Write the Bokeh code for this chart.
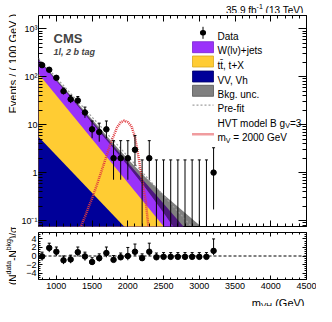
import math
from bokeh.plotting import figure
from bokeh.layouts import column, row
from bokeh.models import (LinearAxis, LogAxis, SingleIntervalTicker, FixedTicker,
                          CustomJSTickFormatter, Label, BoxAnnotation, Arrow, Span)
from bokeh.embed import file_html
from bokeh.resources import INLINE

# ---------------- data ----------------
bin_centers = [800, 900, 1000, 1100, 1200, 1300, 1400, 1500, 1600, 1700, 1800, 1900, 2000,
               2100, 2200, 2300, 2400, 2500, 2600, 2700, 2800, 2900, 3000, 3100, 3200]
data_counts = [175, 140, 95, 50, 34, 32, 18, 8, 7, 8, 2, 2, 2,
               3, 0, 2, 0, 0, 0, 0, 0, 0, 0, 0, 1]
data_low = [161.8, 128.2, 85.3, 43.0, 28.2, 26.4, 13.9, 5.23, 4.42, 5.23, 0.71, 0.71, 0.71,
            1.37, 0.0, 0.71, 0.0, 0.0, 0.0, 0.0, 0.0, 0.0, 0.0, 0.0, 0.17]
data_high = [189.2, 152.8, 105.3, 58.1, 40.9, 38.7, 23.3, 11.95, 10.77, 11.95, 4.64, 4.64, 4.64,
             5.92, 1.84, 4.64, 1.84, 1.84, 1.84, 1.84, 1.84, 1.84, 1.84, 1.84, 3.30]

pulls = [-0.1, 1.9, 1.0, -1.0, -0.8, 0.9, -0.1, -1.4, -0.5, 0.7, -0.9, -0.3, 0.0,
         1.0, -0.5, 1.0, -0.3, -0.2, -0.2, -0.2, -0.2, -0.2, -0.2, -0.2, 1.2]
pull_up = [1.0, 1.1, 1.1, 1.0, 1.0, 1.2, 1.0, 1.0, 1.0, 1.4, 1.0, 1.0, 2.0,
           1.8, 1.0, 2.0, 1.0, 1.0, 1.0, 1.0, 1.0, 1.0, 1.0, 1.0, 2.8]
pull_down = [1.0, 1.0, 1.0, 0.9, 0.9, 1.0, 1.0, 0.7, 0.8, 1.0, 0.5, 0.5, 1.0,
             1.0, 0.0, 1.0, 0.0, 0.0, 0.0, 0.0, 0.0, 0.0, 0.0, 0.0, 1.0]

# stacked background tops (straight lines on the log scale)
bkg_x = [750, 3500]
vv_stack = [5.6, 2.8e-4]          # VV, Vh
tt_stack = [116.0, 1.15e-3]       # + tt, t+X
wjets_stack = [230.0, 4.3e-3]     # + W(lv)+jets  (total)
# background uncertainty band
unc_x = [750, 1250, 1750, 2000, 2250, 2500, 2750, 3000, 3250]
unc_high = [239.0, 33.8, 4.9, 1.92, 0.79, 0.35, 0.167, 0.081, 0.038]
unc_low = [221.0, 30.0, 3.9, 1.39, 0.47, 0.146, 0.042, 0.0118, 0.0035]
prefit_x = [750, 3000]
prefit_y = [245.0, 0.05]

sig_x = [1300, 1350, 1400, 1450, 1500, 1550, 1600, 1650, 1700, 1750, 1800, 1850, 1900,
         1950, 2000, 2050, 2100, 2150, 2200, 2250, 2300]
sig_y = [0.055, 0.08, 0.12, 0.19, 0.29, 0.47, 0.78, 1.3, 2.2, 3.7, 5.8, 8.8, 11.2,
         12.1, 11.3, 9.4, 5.5, 2.1, 0.7, 0.26, 0.05]

# ---------------- style / layout ----------------
FONT = "Liberation Sans"
C_W = "#9a32fa"
C_TT = "#ffcc33"
C_VV = "#000099"
C_SIG = "#e0393e"
XMIN, XMAX = 750, 4500
YMIN, YMAX = 0.075, 1900
FLOOR = 1e-6
LEFT_W = 16              # strip holding the y titles
COL_W = 300              # width of the plot column
BL, BR = 22, 10
FW = COL_W - BL - BR     # frame width (the strips share this frame)
TOP_H, BOT_H = 13, 13
P2_B = 14
FH2 = 47
P2_H = 3 + FH2 + P2_B
TOTAL_H = 306
P1_H = TOTAL_H - TOP_H - P2_H - BOT_H
FH1 = P1_H - 5

AW = {' ': .278, '(': .333, ')': .333, '/': .278, '-': .333, '+': .584, '=': .584, '.': .278,
      ',': .278, 'a': .556, 'b': .556, 'c': .5, 'd': .556, 'e': .556, 'f': .278, 'g': .556,
      'h': .556, 'i': .222, 'j': .222, 'k': .5, 'l': .222, 'm': .833, 'n': .556, 'o': .556,
      'p': .556, 'r': .333, 's': .5, 't': .278, 'u': .556, 'v': .5, 'x': .5, 'y': .5,
      'A': .667, 'B': .667, 'C': .722, 'D': .722, 'E': .667, 'G': .778, 'H': .722, 'M': .833,
      'N': .722, 'S': .667, 'T': .611, 'V': .667, 'W': .944, 'X': .667, 'σ': .6, 'ν': .5,
      '\u0304': 0.0}


def tw(s, size):
    return sum(AW.get(c, .556) for c in s) * size


def rich(p, x, y, pieces, angle=0.0, align="left", color="black", style="normal"):
    total = sum(tw(t, s) for t, s, _ in pieces)
    pos = -total if align == "right" else 0.0
    for t, s, dy in pieces:
        st = t.lstrip(" ")
        pos += tw(t[:len(t) - len(st)], s)
        if st:
            if angle == 0:
                lx, ly = x + pos, y + dy
            else:
                lx, ly = x - dy, y + pos
            p.add_layout(Label(x=lx, y=ly, x_units="screen", y_units="screen", text=st,
                               angle=angle, text_font=FONT, text_font_size=f"{s}px",
                               text_font_style=style, text_align="left",
                               text_baseline="alphabetic", text_color=color))
        pos += tw(st, s)


def strip(width, height):
    s = figure(width=width, height=height, x_range=(0, 1), y_range=(0, 1),
               x_axis_location=None, y_axis_location=None, min_border=0,
               output_backend="svg", toolbar_location=None,
               background_fill_color="white", border_fill_color="white")
    s.grid.visible = False
    s.outline_line_color = None
    return s


BLANK = CustomJSTickFormatter(code="return '';")


def style_axis(ax, tin, tmin, labels=True, size="9px", standoff=2):
    ax.axis_line_color = None
    ax.major_tick_in = tin
    ax.major_tick_out = 0
    ax.minor_tick_in = tmin
    ax.minor_tick_out = 0
    ax.major_tick_line_color = "black"
    ax.minor_tick_line_color = "black"
    ax.major_label_text_font = FONT
    ax.major_label_text_color = "black"
    if labels:
        ax.major_label_text_font_size = size
        ax.major_label_standoff = standoff
    else:
        ax.formatter = BLANK
        ax.major_label_text_font_size = "1px"
        ax.major_label_standoff = 0


# ---------------- main panel ----------------
p1 = figure(x_range=(XMIN, XMAX), y_range=(YMIN, YMAX), y_axis_type="log",
            width=COL_W, height=P1_H, min_border_left=BL, min_border_right=BR,
            min_border_top=2, min_border_bottom=3, output_backend="svg",
            toolbar_location=None, background_fill_color="white", border_fill_color="white")
p1.grid.visible = False
p1.outline_line_color = "black"
p1.outline_line_width = 1

xt = SingleIntervalTicker(interval=500, num_minor_ticks=5)
yt = FixedTicker(ticks=[0.1, 1, 10, 100, 1000],
                 minor_ticks=[m * 10.0 ** e for e in range(-2, 4) for m in range(2, 10)])
ylab = CustomJSTickFormatter(code="""
const e = Math.round(Math.log10(tick));
const m = {"-1": "10\u207b\u00b9", "0": "1", "1": "10", "2": "10\u00b2", "3": "10\u00b3"};
return m[String(e)] || "";
""")
p1.xaxis.ticker = xt
p1.yaxis.ticker = yt
p1.yaxis.formatter = ylab
style_axis(p1.xaxis[0], 6, 3, labels=False)
style_axis(p1.yaxis[0], 8, 4, labels=True, standoff=1)
ax_top = LinearAxis(ticker=xt)
style_axis(ax_top, 6, 3, labels=False)
p1.add_layout(ax_top, "above")
ax_right = LogAxis(ticker=yt)
style_axis(ax_right, 8, 4, labels=False)
p1.add_layout(ax_right, "right")


def stack_patch(p, xs, top, color):
    p.patch([xs[0], xs[0], xs[1], xs[1]], [FLOOR, top[0], top[1], FLOOR],
            fill_color=color, line_color=None)


stack_patch(p1, bkg_x, wjets_stack, C_W)
stack_patch(p1, bkg_x, tt_stack, C_TT)
stack_patch(p1, bkg_x, vv_stack, C_VV)
p1.patch(unc_x + unc_x[::-1], unc_high + unc_low[::-1], fill_color="black",
         fill_alpha=0.5, line_color=None)
p1.line(prefit_x, prefit_y, line_color="#a0a0a0", line_width=1.2, line_dash="2 2")
p1.line(sig_x, sig_y, line_color=C_SIG, line_width=2.5, line_dash="1 1")

pos_x = [x for x, n in zip(bin_centers, data_counts) if n > 0]
pos_y = [n for n in data_counts if n > 0]
seg_lo = [lo if lo > 0 else YMIN * 0.5 for lo in data_low]
p1.segment(x0=bin_centers, y0=seg_lo, x1=bin_centers, y1=data_high, line_color="black",
           line_width=1)
p1.scatter(bin_centers, data_high, marker="dash", size=3, line_color="black")
p1.scatter(pos_x, pos_y, size=5.5, fill_color="black", line_color="black")

# texts inside the main frame (screen units from the frame's bottom-left)
p1.add_layout(Label(x=15, y=FH1 - 23, x_units="screen", y_units="screen", text="CMS",
                    text_font=FONT, text_font_size="13px", text_font_style="bold",
                    text_baseline="alphabetic"))
p1.add_layout(Label(x=15, y=FH1 - 36, x_units="screen", y_units="screen", text="1l, 2 b tag",
                    text_font=FONT, text_font_size="9px", text_font_style="bold italic",
                    text_baseline="alphabetic"))

# legend
rows = [FH1 - d for d in (17.3, 31.7, 46.0, 61.0, 75.3, 89.7, 104.3, 118.7)]
BX0, BX1, TX = FW - 114, FW - 93, FW - 89
for c, txt in zip(rows[:6], ["Data", "W(lν)+jets", "tt\u0304, t+X", "VV, Vh", "Bkg. unc.", "Pre-fit"]):
    rich(p1, TX, c - 3.6, [(txt, 10, 0)])
rich(p1, TX, rows[6] - 3.6, [("HVT model B g", 10, 0), ("V", 7, -2.5), ("=3", 10, 0)])
rich(p1, TX, rows[7] - 3.6, [("m", 10, 0), ("V", 7, -2.5), (" = 2000 GeV", 10, 0)])
for c, fc, lc in [(rows[1], C_W, "#7a22d0"), (rows[2], C_TT, "#d9a820"),
                  (rows[3], C_VV, "#000066"), (rows[4], "#808080", "#555555")]:
    p1.add_layout(BoxAnnotation(left=BX0, right=BX1, bottom=c - 5.5, top=c + 5.5,
                                left_units="screen", right_units="screen",
                                bottom_units="screen", top_units="screen",
                                fill_color=fc, fill_alpha=1.0, line_color=lc, line_width=0.8,
                                line_alpha=1.0))
mx = (BX0 + BX1) / 2
p1.add_layout(Arrow(end=None, x_start=mx, y_start=rows[0] - 6, x_end=mx, y_end=rows[0] + 6,
                    start_units="screen", end_units="screen", line_color="black", line_width=1))
p1.add_layout(Arrow(end=None, x_start=mx - 0.3, y_start=rows[0], x_end=mx + 0.3, y_end=rows[0],
                    start_units="screen", end_units="screen", line_color="black",
                    line_width=5.5, line_cap="round"))
p1.add_layout(Arrow(end=None, x_start=BX0, y_start=rows[5], x_end=BX1, y_end=rows[5],
                    start_units="screen", end_units="screen", line_color="#a0a0a0",
                    line_width=1.2, line_dash="2 2"))
p1.add_layout(Arrow(end=None, x_start=BX0, y_start=rows[7], x_end=BX1, y_end=rows[7],
                    start_units="screen", end_units="screen", line_color=C_SIG,
                    line_width=2.5, line_dash="1 1"))

# ---------------- ratio panel ----------------
p2 = figure(x_range=p1.x_range, y_range=(-5.5, 5.5), width=COL_W, height=P2_H,
            min_border_left=BL, min_border_right=BR, min_border_top=3, min_border_bottom=P2_B,
            output_backend="svg", toolbar_location=None, background_fill_color="white",
            border_fill_color="white")
p2.grid.visible = False
p2.outline_line_color = "black"
p2.outline_line_width = 1
rt = SingleIntervalTicker(interval=2, num_minor_ticks=4)
p2.xaxis.ticker = xt
p2.yaxis.ticker = rt
style_axis(p2.xaxis[0], 4, 2, labels=True, standoff=3)
style_axis(p2.yaxis[0], 4, 2, labels=True, standoff=2)
ax2_top = LinearAxis(ticker=xt)
style_axis(ax2_top, 4, 2, labels=False)
p2.add_layout(ax2_top, "above")
ax2_right = LinearAxis(ticker=rt)
style_axis(ax2_right, 4, 2, labels=False)
p2.add_layout(ax2_right, "right")

p2.add_layout(Span(location=0, dimension="width", line_color="black", line_width=1,
                   line_dash="3 2"))
p_lo = [v - d for v, d in zip(pulls, pull_down)]
p_hi = [v + u for v, u in zip(pulls, pull_up)]
p2.segment(x0=bin_centers, y0=p_lo, x1=bin_centers, y1=p_hi, line_color="black", line_width=1)
p2.scatter(bin_centers, p_hi, marker="dash", size=3, line_color="black")
p2.scatter(bin_centers, pulls, size=5.5, fill_color="black", line_color="black")

# ---------------- title strips (their frames line up with the plot frames) ----------------
top = strip(COL_W, TOP_H)
rich(top, FW - 2, 3, [("35.9 fb", 10, 0), ("-1", 7, 4), (" (13 TeV)", 10, 0)], align="right")

bottom = strip(COL_W, BOT_H)
rich(bottom, FW - 2, 3.2, [("m", 11, 0), ("VH", 8, -2.5), (" (GeV)", 11, 0)], align="right")

left = strip(LEFT_W, TOTAL_H)
main_top = TOTAL_H - TOP_H - 2                  # main frame top, from the strip bottom
rich(left, 12.5, main_top + 2 - 100, [("Events / ( 100 GeV )", 11, 0)], angle=math.pi / 2)
ratio_mid = BOT_H + P2_B + FH2 / 2
rich(left, 12.5, ratio_mid - 29, [("(N", 10, 0), ("data", 7, 4.5), ("-N", 10, 0),
                                  ("bkg", 7, 4.5), (")/σ", 10, 0)], angle=math.pi / 2)

layout = row(left, column(top, p1, p2, bottom))
open("out.html", "w").write(file_html(layout, INLINE))
